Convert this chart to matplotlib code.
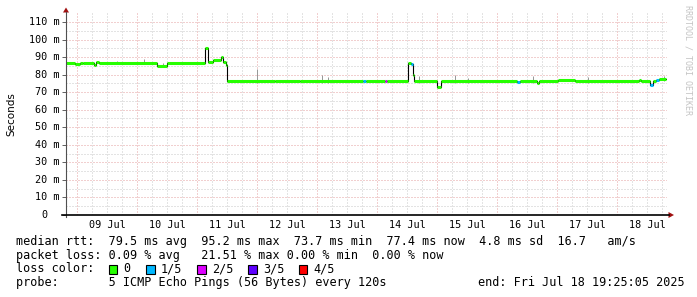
import matplotlib
matplotlib.use('Agg')
import numpy as np
import matplotlib.pyplot as plt
from matplotlib.patches import Rectangle, Polygon
from matplotlib.lines import Line2D

W, H = 697, 297
plt.rcParams['font.family'] = ['DejaVu Sans Mono']

# median rtt as steps: start in days since 09 Jul 00:00, value in ms, loss class (0..4)
seg_start = [-0.193, -0.04, 0.04, 0.09, 0.28, 0.31, 0.36, 1.33, 1.49, 2.13,
             2.18, 2.26, 2.40, 2.43, 2.47, 2.50, 3.30, 3.71, 4.76, 4.81,
             5.13, 5.16, 5.51, 5.57, 5.59, 5.61, 5.99, 6.07, 7.33, 7.38,
             7.66, 7.70, 8.01, 8.29, 9.37, 9.40, 9.55, 9.60, 9.65, 9.70]
seg_value = [86.8, 86.3, 86.9, 86.4, 85.3, 87.4, 86.8, 85.1, 86.8, 95.2,
             87.0, 88.3, 90.0, 87.3, 85.5, 76.4, 76.1, 76.4, 76.2, 76.4,
             76.4, 76.4, 86.8, 86.0, 79.8, 76.4, 73.1, 76.5, 75.8, 76.4,
             75.0, 76.4, 76.7, 76.4, 77.0, 76.4, 74.2, 76.3, 76.8, 77.4]
seg_loss = [0, 0, 0, 0, 0, 0, 0, 0, 0, 0,
            0, 0, 0, 0, 0, 0, 0, 0, 1, 0,
            2, 0, 0, 1, 0, 0, 0, 0, 1, 0,
            0, 0, 0, 0, 0, 0, 1, 0, 1, 0]
end_time = 9.809

# smoke (spread of the single pings) that sticks out above the median
smoke_time = [0.66, 1.11, 1.43, 3.00, 4.08, 4.18, 5.70, 6.30, 6.51, 7.59, 8.52, 9.78]
smoke_top = [87.5, 88.7, 86.5, 83.0, 79.8, 78.8, 79.4, 79.8, 77.9, 79.2, 78.5, 79.2]

loss_colors = ['#26ff00', '#00b8ff', '#dd00ff', '#5e00ff', '#ff0000']
loss_labels = ['0', '1/5', '2/5', '3/5', '4/5']
day_labels = ['09 Jul', '10 Jul', '11 Jul', '12 Jul', '13 Jul',
              '14 Jul', '15 Jul', '16 Jul', '17 Jul', '18 Jul']
y_ticks = list(range(0, 111, 10))

legend_lines = [
    'median rtt:  79.5 ms avg  95.2 ms max  73.7 ms min  77.4 ms now  4.8 ms sd  16.7   am/s',
    'packet loss: 0.09 % avg   21.51 % max 0.00 % min  0.00 % now',
]
probe_text = 'probe:       5 ICMP Echo Pings (56 Bytes) every 120s'
end_text = 'end: Fri Jul 18 19:25:05 2025'


def fx(x):
    return x / W


def fy(y):
    return 1 - y / H


fig = plt.figure(figsize=(W / 100, H / 100), dpi=100)
ax = fig.add_axes([fx(65.8), fy(215), (667 - 65.8) / W, (215 - 13.2) / H])
ax.set_xlim(-0.193, 9.83)
ax.set_ylim(0, 115)
for s in ax.spines.values():
    s.set_visible(False)

major_c = '#e4a0a0'
minor_c = '#c8c8c8'
dots = (0, (1, 2))
for d in np.arange(-0.25, 9.9, 0.25):
    if d < -0.193 or d > 9.83:
        continue
    if abs(d - round(d)) < 1e-6:
        continue
    ax.axvline(d, color=minor_c, lw=0.72, ls=dots, zorder=1)
for v in range(5, 115, 10):
    ax.axhline(v, color=minor_c, lw=0.72, ls=dots, zorder=1)
for d in range(0, 10):
    ax.axvline(d, color=major_c, lw=0.72, ls=dots, zorder=1.1)
for v in range(10, 115, 10):
    ax.axhline(v, color=major_c, lw=0.72, ls=dots, zorder=1.1)

# smoke
starts = np.array(seg_start)
vals = np.array(seg_value)
for t, top in zip(smoke_time, smoke_top):
    base = vals[np.searchsorted(starts, t) - 1]
    ax.vlines(t, base - 1, top, color='#999999', lw=0.72, zorder=2)

# median: thin black step plus loss coloured segments
xs = seg_start + [end_time]
ys = seg_value + [seg_value[-1]]
ax.step(xs, ys, where='post', color='black', lw=0.8, zorder=3)
ends = seg_start[1:] + [end_time]
ax.hlines(seg_value, seg_start, ends, colors=[loss_colors[c] for c in seg_loss],
          lw=2.2, zorder=4)

# axes ticks and labels
ax.set_xticks([d + 0.5 for d in range(10)])
ax.set_xticklabels(day_labels, fontsize=7.3)
ax.tick_params(axis='x', length=0, pad=3.5)
ax.set_yticks(y_ticks)
ax.set_yticklabels([])
ax.tick_params(axis='y', length=3, width=0.7, color='#606060', direction='out')
for v in y_ticks:
    lab = '%d m' % v if v else '0'
    xr = 59.5 if v else 47.5
    ax.text(fx(xr), v, lab, transform=fig.transFigure + 0 if False else
            matplotlib.transforms.blended_transform_factory(fig.transFigure, ax.transData),
            ha='right', va='center', fontsize=7.3)

# axis lines and arrows
fig.add_artist(Line2D([fx(66), fx(66)], [fy(217), fy(12)], color='#505050', lw=0.8))
fig.add_artist(Line2D([fx(62), fx(669)], [fy(215), fy(215)], color='black', lw=1.2))
arrow_c = '#a01010'
fig.add_artist(Polygon([(fx(63), fy(12.5)), (fx(69), fy(12.5)), (fx(66), fy(7.5))],
                       closed=True, color=arrow_c, lw=0))
fig.add_artist(Polygon([(fx(668.5), fy(212)), (fx(668.5), fy(218)), (fx(674), fy(215))],
                       closed=True, color=arrow_c, lw=0))

fig.text(fx(11), fy(114), 'Seconds', rotation=90, family='DejaVu Sans', fontsize=7.5,
         ha='center', va='center')
fig.text(fx(688), fy(60), 'RRDTOOL / TOBI OETIKER', rotation=270, fontsize=6,
         color='#c4c4c4', ha='center', va='center')

# legend block
fs = 8.5
fig.text(fx(15.5), fy(241.7), legend_lines[0], fontsize=fs, va='center')
fig.text(fx(15.5), fy(255.2), legend_lines[1], fontsize=fs, va='center')
fig.text(fx(15.5), fy(269), 'loss color:', fontsize=fs, va='center')
box_x = [108.5, 146, 197, 248, 298.5]
for c, lab, bx in zip(loss_colors, loss_labels, box_x):
    fig.add_artist(Rectangle((fx(bx), fy(273.5)), 8.5 / W, 8.5 / H, facecolor=c,
                             edgecolor='black', lw=0.8))
    fig.text(fx(bx + 15), fy(269), lab, fontsize=fs, va='center')
fig.text(fx(15.5), fy(282.8), probe_text, fontsize=fs, va='center')
fig.text(fx(477.5), fy(282.8), end_text, fontsize=fs, va='center')

fig.savefig('out.png', dpi=100, facecolor='white')
